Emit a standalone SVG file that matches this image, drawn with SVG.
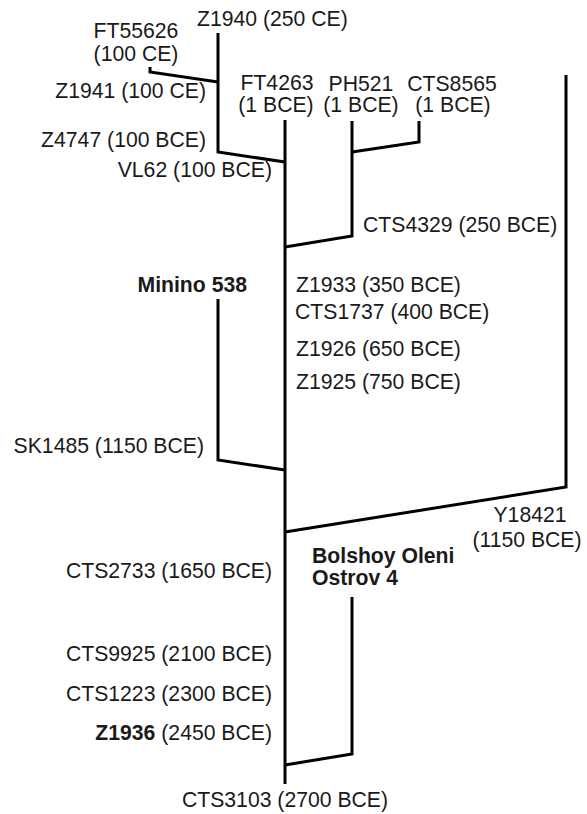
<svg xmlns="http://www.w3.org/2000/svg" width="587" height="814" viewBox="0 0 587 814">
<style>
text{font-family:"Liberation Sans",Arial,sans-serif;font-size:21.2px;fill:#1a1a1a}
.b{font-weight:bold}
.m{text-anchor:middle}
.e{text-anchor:end}
.c path{fill:none;stroke:#000;stroke-width:3;stroke-linejoin:miter;stroke-linecap:butt}
</style>
<rect width="587" height="814" fill="#fff"/>
<g class="c" id="connectors">
<path d="M285,120 V784"/>
<path d="M218,33 V152 L285,162"/>
<path d="M150,67 V72 L218,82"/>
<path d="M352,121 V236 L285,247"/>
<path d="M419,121 V142 L352,152"/>
<path d="M566,75 V487 L285,532"/>
<path d="M218,299 V460 L285,470"/>
<path d="M352,597 V754 L285,765"/>
</g>
<g id="FT55626"><text class="m" x="136" y="38">FT55626</text><text class="m" x="136" y="61">(100 CE)</text></g>
<g id="Z1940"><text x="197" y="26">Z1940 (250 CE)</text></g>
<g id="Z1941"><text class="e" x="206" y="98">Z1941 (100 CE)</text></g>
<g id="FT4263"><text class="m" x="277" y="90">FT4263</text><text class="m" x="276" y="112">(1 BCE)</text></g>
<g id="PH521"><text class="m" x="361" y="91">PH521</text><text class="m" x="361" y="112">(1 BCE)</text></g>
<g id="CTS8565"><text class="m" x="452" y="91">CTS8565</text><text class="m" x="453" y="112">(1 BCE)</text></g>
<g id="Z4747"><text class="e" x="206" y="147">Z4747 (100 BCE)</text></g>
<g id="VL62"><text class="e" x="272" y="177">VL62 (100 BCE)</text></g>
<g id="CTS4329"><text x="363" y="232">CTS4329 (250 BCE)</text></g>
<g id="Minino538"><text class="b e" x="247" y="292">Minino 538</text></g>
<g id="Z1933"><text x="296" y="292">Z1933 (350 BCE)</text></g>
<g id="CTS1737"><text x="295" y="319">CTS1737 (400 BCE)</text></g>
<g id="Z1926"><text x="296" y="356">Z1926 (650 BCE)</text></g>
<g id="Z1925"><text x="296" y="389">Z1925 (750 BCE)</text></g>
<g id="SK1485"><text class="e" x="204" y="453">SK1485 (1150 BCE)</text></g>
<g id="Y18421"><text class="m" x="530" y="522">Y18421</text><text class="m" x="527" y="547">(1150 BCE)</text></g>
<g id="BolshoyOleniOstrov4"><text class="b" x="312" y="563">Bolshoy Oleni</text><text class="b" x="312" y="585">Ostrov 4</text></g>
<g id="CTS2733"><text class="e" x="272" y="578">CTS2733 (1650 BCE)</text></g>
<g id="CTS9925"><text class="e" x="272" y="661">CTS9925 (2100 BCE)</text></g>
<g id="CTS1223"><text class="e" x="272" y="701">CTS1223 (2300 BCE)</text></g>
<g id="Z1936"><text class="e" x="272" y="740"><tspan class="b">Z1936</tspan> (2450 BCE)</text></g>
<g id="CTS3103"><text class="m" x="285" y="807">CTS3103 (2700 BCE)</text></g>
</svg>
